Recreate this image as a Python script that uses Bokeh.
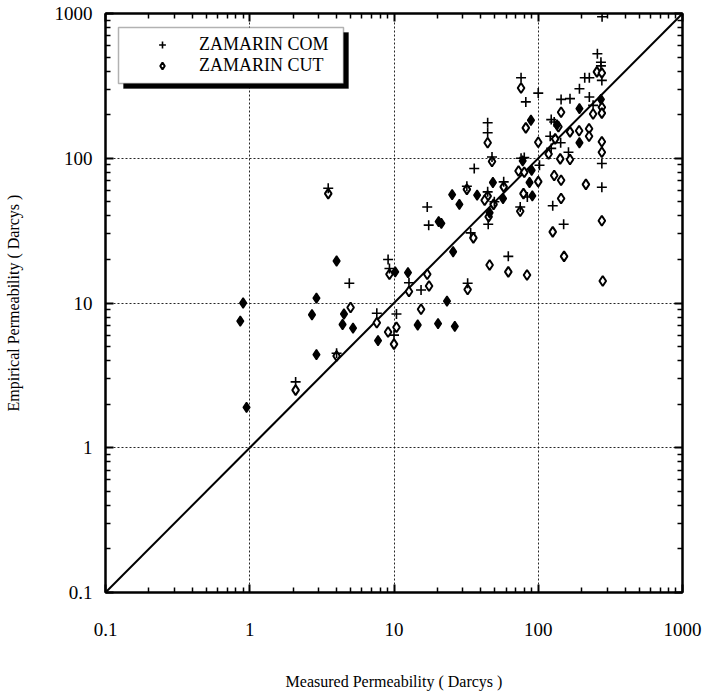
from bokeh.plotting import figure
from bokeh.models import (LogAxis, FixedTicker, Legend, LegendItem, Range1d,
                          BoxAnnotation, CustomJSTickFormatter)
from bokeh.embed import file_html
from bokeh.resources import INLINE

# ---- data ----
com_x = [3.5, 9.1, 9.3, 4.9, 7.6, 10.4, 10.0, 4.0, 2.08, 17, 17.4, 12.7, 15.4, 32, 34,
         32.4, 45, 44.6, 44.6, 47.8, 36, 44.6, 49.6, 57.6, 62, 75, 76, 82, 100, 76,
         80, 102, 84, 144, 166, 193, 210, 226, 257, 272, 272, 276, 277, 226, 240,
         123, 129, 121, 143, 162, 123, 276, 276, 126, 150]
com_y = [62, 20, 17.3, 13.7, 8.5, 8.4, 6.0, 4.5, 2.85, 46, 34.5, 13.8, 12.3, 64, 30.5,
         13.7, 35, 176, 150, 102, 85, 58.6, 50, 68.7, 21, 46, 360, 245, 282, 100,
         101, 89.5, 54, 255, 258, 302, 360, 360, 527, 460, 435, 345, 950, 265, 232,
         185, 178, 142, 128, 110, 117, 92, 63, 47, 35]

cut_x = [3.5, 9.3, 5.0, 7.6, 10.4, 9.1, 10.0, 4.0, 2.08, 17, 12.7, 17.5, 15.4, 32, 35.5,
         32.4, 45.3, 46, 44.6, 47.8, 44.6, 42.5, 49, 57.6, 62, 75, 83.6, 76, 82, 100,
         73, 80, 100, 79, 129, 144, 214, 144, 126, 151, 276, 280, 276, 142, 166,
         118, 144, 240, 276, 276, 255, 276, 166, 192, 225, 225, 276, 131, 138]
cut_y = [57, 15.8, 9.3, 7.3, 6.8, 6.3, 5.2, 4.3, 2.5, 15.8, 12.0, 13.1, 9.05, 61, 28.2,
         12.4, 39.4, 18.3, 128, 95, 54.7, 51.3, 48, 63.4, 16.4, 43, 15.6, 306, 162, 129,
         81.7, 80, 69, 57, 76, 70.5, 66, 52.7, 31, 21, 37, 14.2, 110, 99, 98,
         107, 208, 202, 225, 205, 395, 388, 152, 155, 160, 142, 130, 136, 165]

# points where both estimates coincide (drawn as filled diamonds)
both_x = [0.9, 0.86, 0.95, 4.0, 2.9, 2.7, 4.5, 4.4, 5.2, 2.9, 10.2, 7.75, 12.5, 20.4,
          21.3, 28.4, 23.3, 14.6, 20.2, 26.4, 25.7, 25.3, 37.7, 48.5, 57, 46, 89, 78,
          90, 87, 91, 193, 272, 135, 193]
both_y = [10, 7.5, 1.9, 19.5, 10.8, 8.3, 8.4, 7.1, 6.7, 4.4, 16.4, 5.5, 16.2, 36.5,
          35.5, 48, 10.3, 7.05, 7.2, 6.9, 22.6, 56, 55.6, 68, 52.7, 42, 183, 96,
          82.6, 68, 55, 220, 255, 170, 128]

diag_x = [0.1, 1000]
diag_y = [0.1, 1000]

major_ticks = [0.1, 1, 10, 100, 1000]
tick_labels = ["0.1", "1", "10", "100", "1000"]

FONT = "Liberation Serif"
W, H = 720, 697
ML, MR, MT, MB = 105, 38, 13, 105
FW, FH = W - ML - MR, H - MT - MB

p = figure(width=W, height=H, x_axis_type="log", y_axis_type="log",
           x_range=Range1d(0.1, 1000), y_range=Range1d(0.1, 1000),
           output_backend="svg", toolbar_location=None,
           min_border_left=ML, min_border_right=MR, min_border_top=MT,
           min_border_bottom=MB)
p.background_fill_color = "white"
p.border_fill_color = "white"
p.outline_line_color = "black"
p.outline_line_width = 2

minor = [m * t for t in major_ticks[:-1] for m in range(2, 10)]
ticker = FixedTicker(ticks=major_ticks, minor_ticks=minor)
overrides = {t: l for t, l in zip(major_ticks, tick_labels)}

p.add_layout(LogAxis(), "above")
p.add_layout(LogAxis(), "right")

for ax in p.axis:
    ax.ticker = ticker
    ax.major_label_overrides = overrides
    ax.major_tick_in = 8
    ax.major_tick_out = 0
    ax.minor_tick_in = 5
    ax.minor_tick_out = 0
    ax.axis_line_width = 2
    ax.axis_line_color = "black"
    ax.major_tick_line_width = 2
    ax.major_tick_line_color = "black"
    ax.minor_tick_line_width = 1.5
    ax.minor_tick_line_color = "black"
    ax.major_label_text_font = FONT
    ax.major_label_text_font_size = "19px"
    ax.major_label_text_color = "black"
    ax.axis_label_text_font = FONT
    ax.axis_label_text_font_style = "normal"
    ax.axis_label_text_font_size = "16px"
    ax.axis_label_text_color = "black"

for ax in p.above + p.right:
    ax.major_label_overrides = {}
    ax.formatter = CustomJSTickFormatter(code="return ''")
    ax.major_label_standoff = 0

bx = p.below[0]
bx.axis_label = "Measured Permeability ( Darcys )"
bx.major_label_standoff = 30
bx.axis_label_standoff = 34

ly = p.left[0]
ly.axis_label = "Empirical Permeability ( Darcys )"
ly.major_label_standoff = 13
ly.axis_label_standoff = 30

for g in (p.xgrid, p.ygrid):
    g.ticker = ticker
    g.grid_line_color = "black"
    g.grid_line_dash = "2 2"
    g.grid_line_width = 1
    g.grid_line_alpha = 0.85

p.line(diag_x, diag_y, line_color="black", line_width=2)
r_cut = p.scatter(cut_x, cut_y, marker="diamond", size=10, fill_color="white",
                  line_color="black", line_width=2)
r_com = p.scatter(com_x, com_y, marker="cross", size=10, line_color="black",
                  line_width=1.6)
r_both = p.scatter(both_x, both_y, marker="diamond", size=10, fill_color="black",
                   line_color="black", line_width=1.5)


# legend frame (pixel offsets inside the plot frame -> data coords on log axes)
def xd(px):
    return 10 ** (-1 + 4.0 * px / FW)


def yd(py):
    return 10 ** (3 - 4.0 * py / FH)


bl, bt, br, bb = 13, 14, 238, 70
sh = 5
p.add_layout(BoxAnnotation(left=xd(bl + sh), right=xd(br + sh), top=yd(bt + sh),
                           bottom=yd(bb + sh), fill_color="black", fill_alpha=1,
                           line_color="black", line_width=1))
p.add_layout(BoxAnnotation(left=xd(bl), right=xd(br), top=yd(bt), bottom=yd(bb),
                           fill_color="white", fill_alpha=1, line_color="black",
                           line_width=1.5))

legend = Legend(items=[LegendItem(label="ZAMARIN COM", renderers=[r_com]),
                       LegendItem(label="ZAMARIN CUT", renderers=[r_cut])],
                location=(47, FH - 63))
legend.background_fill_alpha = 0
legend.border_line_color = None
legend.label_text_font = FONT
legend.label_text_font_size = "18px"
legend.label_text_color = "black"
legend.padding = 5
legend.spacing = 0
legend.margin = 0
legend.glyph_width = 20
legend.glyph_height = 17
legend.label_height = 17
legend.label_standoff = 27
p.add_layout(legend)

open("out.html", "w").write(file_html(p, INLINE))
